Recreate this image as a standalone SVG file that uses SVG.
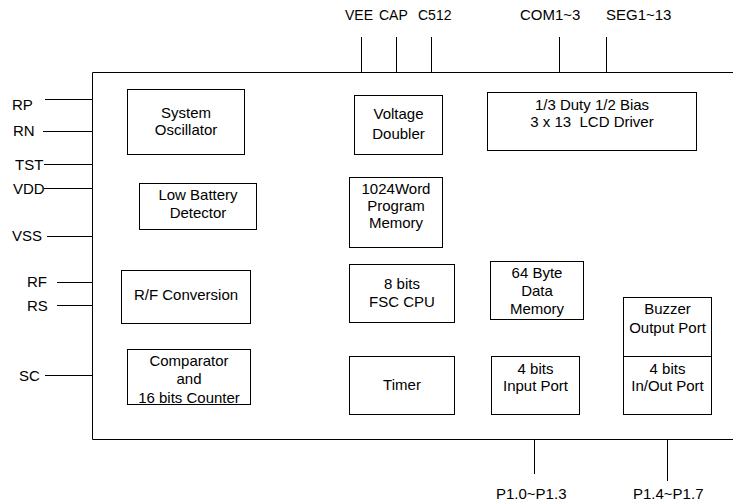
<svg xmlns="http://www.w3.org/2000/svg" width="733" height="503" viewBox="0 0 733 503">
<style>
text{font-family:"Liberation Sans",Arial,sans-serif;font-size:15px;fill:#000}
.t{font-size:14px}
.c{text-anchor:middle}
.b{fill:#fff;stroke:#000;stroke-width:1}
.w{stroke:#000;stroke-width:1;fill:none}
</style>
<rect width="733" height="503" fill="#fff"/>
<g id="chip"><path class="w" d="M740 72.5H92.5V439.5H740"/></g>
<g id="connectors">
<path class="w" d="M361.5 37V72M396.5 37V72M431.5 37V72M559.5 37V72M606.5 37V72"/>
<path class="w" d="M45 99.5H92M43 131.5H92M44 164.5H92M44 188.5H92M47 236.5H92M57 282.5H92M57 305.5H92M45 375.5H92"/>
<path class="w" d="M534.5 440V474M667.5 440V481"/>
</g>
<g id="pins">
<text class="t" x="345" y="20">VEE</text>
<text class="t" x="379" y="20">CAP</text>
<text class="t" x="418" y="20">C512</text>
<text x="520" y="20">COM1~3</text>
<text x="606" y="20">SEG1~13</text>
<text x="12" y="110">RP</text>
<text x="13" y="136">RN</text>
<text x="15" y="170">TST</text>
<text x="13" y="194">VDD</text>
<text x="12" y="241">VSS</text>
<text x="27" y="287">RF</text>
<text x="27" y="311">RS</text>
<text x="19" y="381">SC</text>
<text x="496" y="499">P1.0~P1.3</text>
<text x="633" y="499">P1.4~P1.7</text>
</g>
<g id="sysosc"><rect class="b" x="127.5" y="89.5" width="117" height="65"/><text class="c" x="186" y="117.5">System</text><text class="c" x="186" y="135">Oscillator</text></g>
<g id="lowbat"><rect class="b" x="139.5" y="183.5" width="117" height="46"/><text class="c" x="198" y="200">Low Battery</text><text class="c" x="198" y="217.5">Detector</text></g>
<g id="vdoubler"><rect class="b" x="354.5" y="95.5" width="88" height="59"/><text class="c" x="398.5" y="119">Voltage</text><text class="c" x="398.5" y="138.5">Doubler</text></g>
<g id="progmem"><rect class="b" x="349.5" y="177.5" width="93" height="70"/><text class="c" x="396" y="193.5">1024Word</text><text class="c" x="396" y="211">Program</text><text class="c" x="396" y="228">Memory</text></g>
<g id="lcd"><rect class="b" x="487.5" y="92.5" width="209" height="58"/><text class="c" x="592" y="110">1/3 Duty 1/2 Bias</text><text class="c" x="592" y="126.5" xml:space="preserve">3 x 13  LCD Driver</text></g>
<g id="rfconv"><rect class="b" x="121.5" y="270.5" width="129" height="53"/><text class="c" x="186" y="300">R/F Conversion</text></g>
<g id="comparator"><rect class="b" x="127.5" y="349.5" width="123" height="55"/><text class="c" x="189" y="366">Comparator</text><text class="c" x="189" y="384">and</text><text class="c" x="189" y="403">16 bits Counter</text></g>
<g id="cpu"><rect class="b" x="349.5" y="264.5" width="105" height="58"/><text class="c" x="402" y="289">8 bits</text><text class="c" x="402" y="307">FSC CPU</text></g>
<g id="datamem"><rect class="b" x="490.5" y="261.5" width="93" height="58"/><text class="c" x="537" y="278">64 Byte</text><text class="c" x="537" y="296">Data</text><text class="c" x="537" y="314">Memory</text></g>
<g id="buzzer"><rect class="b" x="623.5" y="297.5" width="88" height="59"/><text class="c" x="667.5" y="314">Buzzer</text><text class="c" x="667.5" y="333">Output Port</text></g>
<g id="ioport"><rect class="b" x="623.5" y="356.5" width="88" height="58"/><text class="c" x="667.5" y="374">4 bits</text><text class="c" x="667.5" y="391">In/Out Port</text></g>
<g id="timer"><rect class="b" x="349.5" y="356.5" width="105" height="58"/><text class="c" x="402" y="390">Timer</text></g>
<g id="inport"><rect class="b" x="491.5" y="356.5" width="88" height="58"/><text class="c" x="535.5" y="374">4 bits</text><text class="c" x="535.5" y="391">Input Port</text></g>
</svg>
